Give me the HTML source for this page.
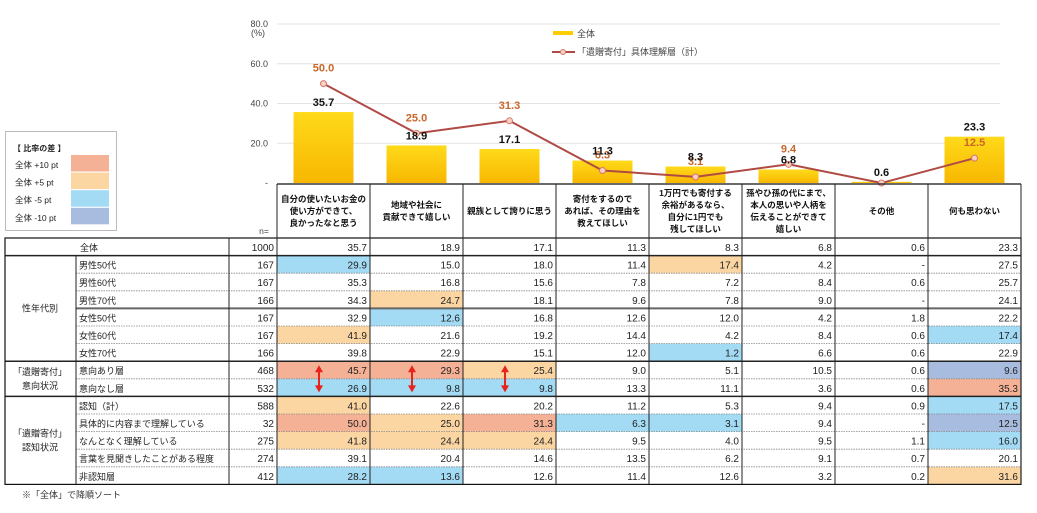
<!DOCTYPE html>
<html><head><meta charset="utf-8"><style>
body{margin:0;background:#fff;width:1037px;height:508px;overflow:hidden;font-family:"Liberation Sans","Noto Sans CJK JP",sans-serif}
svg text{font-family:"Liberation Sans","Noto Sans CJK JP",sans-serif}
</style></head><body>
<svg id="c" width="1037" height="508" viewBox="0 0 1037 508">
<defs><linearGradient id="bg" x1="0" y1="0" x2="0" y2="1"><stop offset="0" stop-color="#FFDA1A"/><stop offset="1" stop-color="#F7B700"/></linearGradient></defs>
</svg>
<script>
const categories=["自分の使いたいお金の|使い方ができて、|良かったなと思う","地域や社会に|貢献できて嬉しい","親族として誇りに思う","寄付をするので|あれば、その理由を|教えてほしい","1万円でも寄付する|余裕があるなら、|自分に1円でも|残してほしい","孫やひ孫の代にまで、|本人の思いや人柄を|伝えることができて|嬉しい","その他","何も思わない"];
const barValues=[35.7,18.9,17.1,11.3,8.3,6.8,0.6,23.3];
const lineValues=[50.0,25.0,31.3,6.3,3.1,9.4,0.0,12.5];
const yTicks=[0,20,40,60,80];
const rowLabels=["全体","男性50代","男性60代","男性70代","女性50代","女性60代","女性70代","意向あり層","意向なし層","認知（計）","具体的に内容まで理解している","なんとなく理解している","言葉を見聞きしたことがある程度","非認知層"];
const rowN=[1000,167,167,166,167,167,166,468,532,588,32,275,274,412];
const tableValues=[
["35.7","18.9","17.1","11.3","8.3","6.8","0.6","23.3"],
["29.9b","15.0","18.0","11.4","17.4o","4.2","-","27.5"],
["35.3","16.8","15.6","7.8","7.2","8.4","0.6","25.7"],
["34.3","24.7o","18.1","9.6","7.8","9.0","-","24.1"],
["32.9","12.6b","16.8","12.6","12.0","4.2","1.8","22.2"],
["41.9o","21.6","19.2","14.4","4.2","8.4","0.6","17.4b"],
["39.8","22.9","15.1","12.0","1.2b","6.6","0.6","22.9"],
["45.7r","29.3r","25.4o","9.0","5.1","10.5","0.6","9.6d"],
["26.9b","9.8b","9.8b","13.3","11.1","3.6","0.6","35.3r"],
["41.0o","22.6","20.2","11.2","5.3","9.4","0.9","17.5b"],
["50.0r","25.0o","31.3r","6.3b","3.1b","9.4","-","12.5d"],
["41.8o","24.4o","24.4o","9.5","4.0","9.5","1.1","16.0b"],
["39.1","20.4","14.6","13.5","6.2","9.1","0.7","20.1"],
["28.2b","13.6b","12.6","11.4","12.6","3.2","0.2","31.6o"]];
const groups=[["性年代別",1,6],["「遺贈寄付」|意向状況",7,8],["「遺贈寄付」|認知状況",9,13]];
const fills={r:"#F4B196",o:"#FBD6A3",b:"#A3DAF4",d:"#A8BCE0"};

const svg=document.getElementById('c');const NS="http://www.w3.org/2000/svg";
function E(t,a,p){const e=document.createElementNS(NS,t);for(const k in a)e.setAttribute(k,a[k]);(p||svg).appendChild(e);return e;}
function T(x,y,s,a){const e=E('text',Object.assign({x:x,y:y},a));e.textContent=s;return e;}
const x0=277,cw=93,y0=183,ys=159/80;
const Y=v=>y0-v*ys, XC=i=>x0+cw*i+cw/2;
// grid
yTicks.forEach(t=>{if(t>0){const g=E('line',{x1:x0,x2:1000,y1:Y(t),y2:Y(t),stroke:"#e3e3e3"});}
const l=T(268,Y(t)+3,t===0?"-":t.toFixed(1),{'font-size':9,'text-anchor':'end',fill:'#444'});});
T(251,36,"(%)",{'font-size':9,fill:'#444'});
// bars
barValues.forEach((v,i)=>{const b=E('rect',{x:XC(i)-30,y:Y(v),width:60,height:v*ys,fill:'url(#bg)'});
});
// line
const pl=E('polyline',{points:lineValues.map((v,i)=>XC(i)+','+Y(v)).join(' '),fill:'none',stroke:'#B04A44','stroke-width':2});

lineValues.forEach((v,i)=>{const c=E('circle',{cx:XC(i),cy:Y(v),r:3,fill:'#FBD0C0',stroke:'#D2786A','stroke-width':1});

if(i!==6){const t=T(XC(i),Y(v)-12,v.toFixed(1),{'font-size':11,'font-weight':'bold','text-anchor':'middle',fill:'#C8672A'});}});
barValues.forEach((v,i)=>{const t=T(XC(i),Y(v)-6,v.toFixed(1),{'font-size':11,'font-weight':'bold','text-anchor':'middle',fill:'#111'});});
// chart legend
const lg=E('g',{});
E('rect',{x:553,y:31,width:20,height:4,fill:'#FFCC00'},lg);T(577,37,"全体",{'font-size':9,fill:'#444'});
E('line',{x1:552,x2:575,y1:52,y2:52,stroke:'#B04A44','stroke-width':2},lg);E('circle',{cx:563,cy:52,r:2.5,fill:'#FBD0C0',stroke:'#D2786A'},lg);
T(577,55,"「遺贈寄付」具体理解層（計）",{'font-size':9,fill:'#444'});
// diff legend
const dl=E('g',{});
E('rect',{x:5.5,y:131.5,width:111,height:99,fill:'#fff',stroke:'#bbb'},dl);
T(13,151,"【 比率の差 】",{'font-size':8,'font-weight':'bold',fill:'#222'},dl);
[["全体 +10 pt","r"],["全体 +5 pt","o"],["全体 -5 pt","b"],["全体 -10 pt","d"]].forEach((d,k)=>{
T(15,168+k*17.6,d[0],{'font-size':8.5,fill:'#222'});E('rect',{x:71,y:155+k*17.6,width:38,height:16.5,fill:fills[d[1]]},dl);});
// table header
const L=5,R=1021,hT=184,rT=238,rh=17.6;
for(let i=0;i<categories.length;i++){const lines=categories[i].split('|');const cy=hT+27-(lines.length-1)*6;
lines.forEach((s,k)=>{const t=T(XC(i),cy+k*12+3,s,{'font-size':8.5,'font-weight':'bold','text-anchor':'middle',fill:'#111'});});}
T(264,234,"n=",{'font-size':8.5,'text-anchor':'middle',fill:'#444'});
// cell fills
tableValues.forEach((row,r)=>row.forEach((s,c)=>{const k=s.slice(-1);if(fills[k]){const f=E('rect',{x:x0+c*cw,y:rT+r*rh,width:cw,height:rh,fill:fills[k]});}}));
// row lines
const thick=[1,4,7,9];
for(let r=1;r<14;r++){const y=rT+r*rh;if(thick.includes(r)){E('line',{x1:(r===4?76:L),x2:R,y1:y,y2:y,stroke:r===4?'#666':'#222','stroke-width':r===4?2:1.5});}
else E('line',{x1:76,x2:R,y1:y,y2:y,stroke:'#888','stroke-width':0.8,'stroke-dasharray':'1.5,1'});}
// borders
E('rect',{x:L,y:rT,width:R-L,height:14*rh,fill:'none',stroke:'#111','stroke-width':1.2});
E('line',{x1:x0,x2:R,y1:hT,y2:hT,stroke:'#111','stroke-width':1.2});
for(let c=0;c<=8;c++)E('line',{x1:x0+c*cw,x2:x0+c*cw,y1:hT,y2:rT+14*rh,stroke:'#222','stroke-width':1});
E('line',{x1:229,x2:229,y1:rT,y2:rT+14*rh,stroke:'#222'});
E('line',{x1:76,x2:76,y1:rT+rh,y2:rT+14*rh,stroke:'#222'});
// table text
rowLabels.forEach((s,r)=>{const y=rT+r*rh+13;
const t=T(r===0?80:79,y,s,{'font-size':9,fill:'#222'});
T(274,y,String(rowN[r]),{'font-size':10,'text-anchor':'end',fill:'#222'});
tableValues[r].forEach((v,c)=>{const val=v.replace(/[robd]$/,'');const t=T(x0+(c+1)*cw-3,y,val,{'font-size':10,'text-anchor':'end',fill:'#222'});});});
groups.forEach(g=>{const lines=g[0].split('|');const cy=rT+(g[1]+g[2]+1)/2*rh-(lines.length-1)*7+3;
lines.forEach((s,k)=>{const t=T(40,cy+k*14,s,{'font-size':9,'text-anchor':'middle',fill:'#222'});});});
// arrows
for(let c=0;c<3;c++){const x=x0+c*cw+42,ya=rT+7*rh+4,yb=rT+9*rh-4;const a=E('g',{});
E('line',{x1:x,x2:x,y1:ya+5,y2:yb-5,stroke:'#E8231B','stroke-width':2},a);
E('polygon',{points:`${x-4},${ya+7} ${x+4},${ya+7} ${x},${ya}`,fill:'#E8231B'},a);
E('polygon',{points:`${x-4},${yb-7} ${x+4},${yb-7} ${x},${yb}`,fill:'#E8231B'},a);}
T(22,498,"※「全体」で降順ソート",{'font-size':9,fill:'#333'});
</script>
</body></html>
